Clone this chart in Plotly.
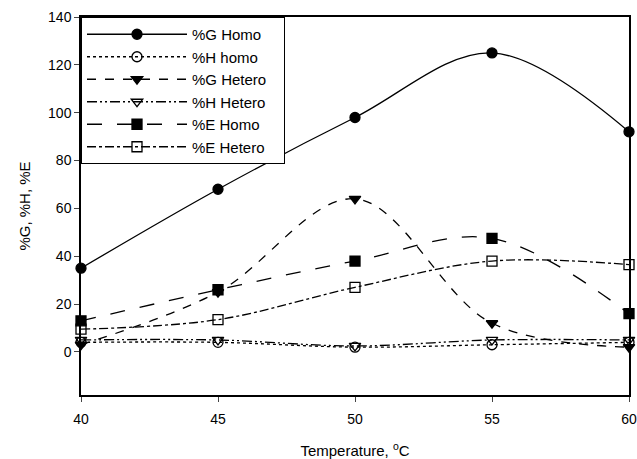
import plotly.graph_objects as go

temps = [40, 45, 50, 55, 60]
g_homo = [35, 68, 98, 125, 92]
h_homo = [4, 4, 2, 3, 4]
g_hetero = [3, 25, 64, 12, 2]
h_hetero = [5, 5, 2.5, 5, 5]
e_homo = [13, 26, 38, 47.5, 16]
e_hetero = [9.5, 13.5, 27, 38, 36.5]

series = [
    ("%G Homo", g_homo, "solid", "circle"),
    ("%H homo", h_homo, "dot", "circle-open"),
    ("%G Hetero", g_hetero, "dash", "triangle-down"),
    ("%H Hetero", h_hetero, "10px,3px,2px,3px,2px,3px", "triangle-down-open"),
    ("%E Homo", e_homo, "longdash", "square"),
    ("%E Hetero", e_hetero, "dashdot", "square-open"),
]

fig = go.Figure()
for name, vals, dash, sym in series:
    fig.add_trace(go.Scatter(
        x=temps, y=vals, name=name + "\u00a0\u00a0\u00a0", mode="lines+markers",
        line=dict(color="black", width=1.3, dash=dash, shape="spline", smoothing=1),
        marker=dict(symbol=sym, size=10, color="black", line=dict(color="black", width=1.3)),
        cliponaxis=False,
    ))

fig.update_layout(
    width=637, height=459,
    margin=dict(l=81, r=8, t=17, b=64),
    paper_bgcolor="white", plot_bgcolor="white",
    font=dict(family="Liberation Sans, Arial, sans-serif", size=14, color="black"),
    legend=dict(x=0, y=1, xanchor="left", yanchor="top",
                bordercolor="black", borderwidth=1, bgcolor="white",
                font=dict(size=15), itemwidth=100, tracegroupgap=0),
    xaxis=dict(range=[40, 60], tickvals=[40, 45, 50, 55, 60], ticks="outside", ticklen=5,
               showline=True, linecolor="black", linewidth=1.5, mirror=True,
               showgrid=False, zeroline=False, automargin=False, ticklabelstandoff=5,
               title=dict(text="Temperature, <sup>o</sup>C", standoff=24, font=dict(size=15))),
    yaxis=dict(range=[-18, 140], tickvals=[0, 20, 40, 60, 80, 100, 120, 140], ticks="outside", ticklen=5,
               showline=True, linecolor="black", linewidth=1.5, mirror=True,
               showgrid=False, zeroline=False, automargin=False,
               title=dict(text="%G, %H, %E", standoff=14, font=dict(size=15))),
)

fig.write_html("out.html", config={"displayModeBar": False},
               post_script="document.body.style.margin='0';document.body.style.padding='0';")
